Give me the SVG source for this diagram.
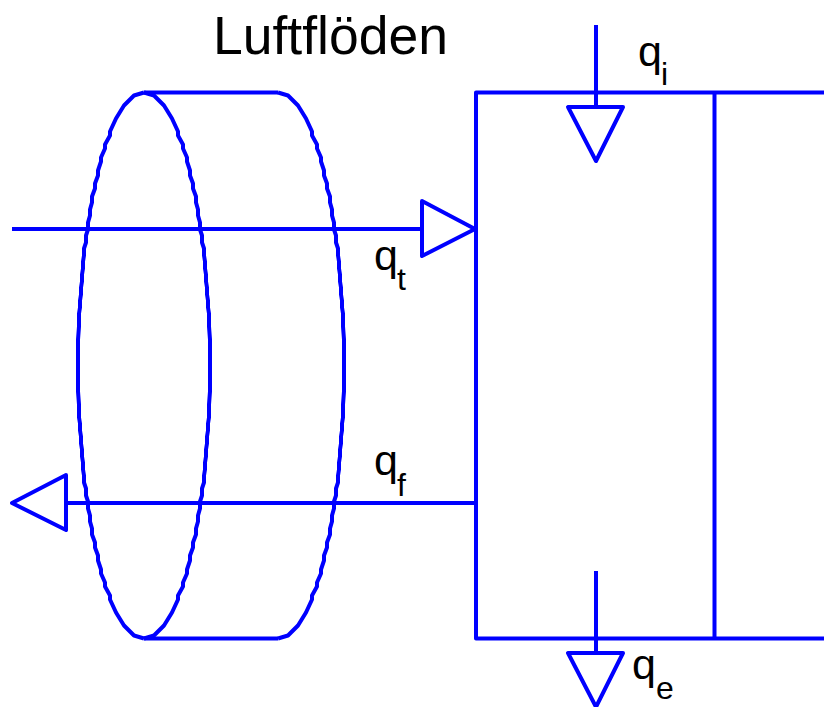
<svg xmlns="http://www.w3.org/2000/svg" width="824" height="707" viewBox="0 0 824 707">
<style>
.l{fill:none;stroke:#0000ff;stroke-width:4;stroke-linejoin:round}
text{font-family:"Liberation Sans",Arial,sans-serif;fill:#000}
.m{font-size:43px}
.s{font-size:32px}
</style>
<defs>
<path id="arc" class="l" d="M0 -273L10 -270L20 -260L28 -247L34 -234V-230L39 -221V-217L43 -208V-204L46 -195V-190L49 -182V-177L52 -169V-163L54 -156V-150L56 -143V-136L58 -130V-123L60 -117V-110L61 -104V-97L62 -91V-84L63 -78V-71L64 -65V-58L65 -52V-39L66 -26V26L65 39V52L64 58V65L63 71V78L62 84V91L61 97V104L60 110V117L58 123V130L56 136V143L54 150V156L52 163V169L49 177V182L46 190V195L43 204V208L39 217V221L34 230V234L28 247L20 260L10 270L0 273"/>
</defs>
<rect width="824" height="707" fill="#fff"/>
<text x="213" y="53.500" font-size="53.500">Luftflöden</text>
<g id="cylinder">
<use href="#arc" transform="translate(144 365.500)"/>
<use href="#arc" transform="translate(144 365.500) scale(-1 1)"/>
<use href="#arc" transform="translate(278 365.500)"/>
<path class="l" d="M144 92.500H278M144 638.500H278"/>
</g>
<g id="room">
<path class="l" d="M824 92.500H476V638.500H824"/>
<path class="l" d="M714.500 92.500V638.500"/>
</g>
<g id="connectors">
<path class="l" d="M12 229H422"/>
<path class="l" d="M422 201L475 229L422 256Z"/>
<path class="l" d="M476 503H66"/>
<path class="l" d="M66 475L12 503L66 530Z"/>
<path class="l" d="M596 25V107"/>
<path class="l" d="M568 107H623L596 161Z"/>
<path class="l" d="M596 571V653"/>
<path class="l" d="M568 653H623L596 707Z"/>
</g>
<g id="labels">
<text class="m" x="638" y="66">q</text><text class="s" x="661" y="85">i</text>
<text class="m" x="374" y="270">q</text><text class="s" x="397" y="290">t</text>
<text class="m" x="374" y="475">q</text><text class="s" x="397" y="496">f</text>
<text class="m" x="632" y="679">q</text><text class="s" x="656" y="699">e</text>
</g>
</svg>
